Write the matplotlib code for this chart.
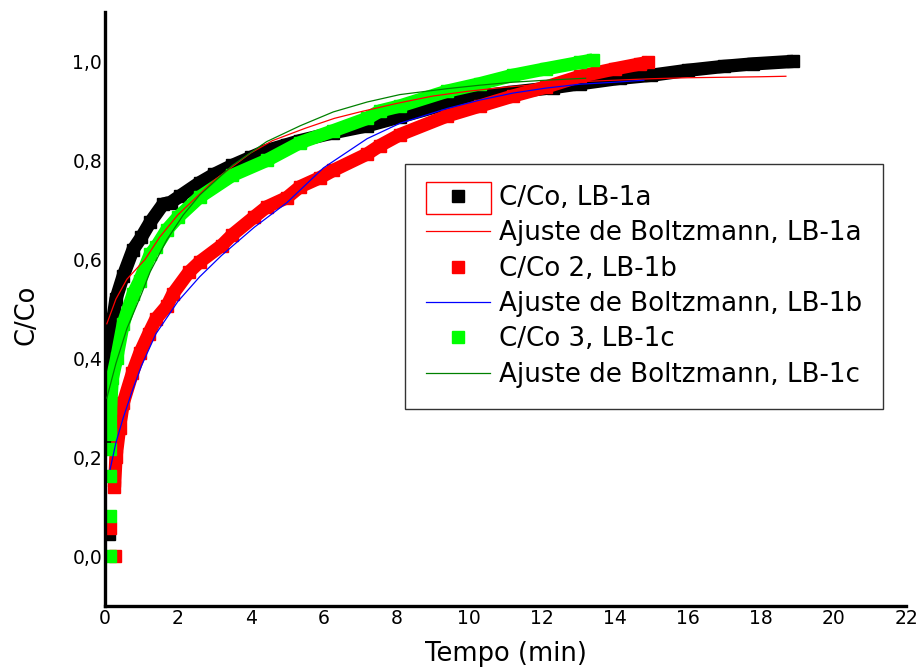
import matplotlib
matplotlib.use("Agg")
import matplotlib.pyplot as plt
from matplotlib.patches import Rectangle
from matplotlib.ticker import FuncFormatter

# ---------------- data ----------------
# LB-1a (black) : isolated first readings + main curve
a_start_x = [0.12, 0.12]
a_start_y = [0.045, 0.225]
a_x = [0.12, 0.15, 0.22, 0.30, 0.50, 0.77, 1.00, 1.24, 1.60, 1.80, 2.06, 2.60, 3.00,
       3.50, 4.00, 4.44, 5.00, 5.36, 6.27, 7.20, 8.10, 9.40, 10.3, 11.2, 12.3, 13.05,
       14.15, 15.0, 16.0, 17.0, 17.8, 18.9]
a_y = [0.36, 0.42, 0.48, 0.52, 0.567, 0.62, 0.645, 0.675, 0.712, 0.715, 0.728, 0.755, 0.772,
       0.79, 0.806, 0.82, 0.832, 0.84, 0.856, 0.87, 0.888, 0.915, 0.93, 0.938, 0.947, 0.955,
       0.966, 0.972, 0.982, 0.99, 0.995, 1.0]

# LB-1b (red)
b_start_x = [0.28, 0.15]
b_start_y = [0.0, 0.058]
b_x = [0.26, 0.30, 0.40, 0.50, 0.75, 0.95, 1.20, 1.40, 1.70, 1.86, 2.30, 2.60, 3.20, 3.50,
       4.10, 4.44, 5.00, 5.36, 5.90, 6.27, 7.20, 7.55, 8.10, 9.40, 10.3, 11.2, 12.1, 13.05,
       14.0, 14.7, 14.9]
b_y = [0.14, 0.20, 0.26, 0.31, 0.37, 0.41, 0.45, 0.48, 0.506, 0.53, 0.574, 0.595, 0.628, 0.65,
       0.686, 0.706, 0.725, 0.747, 0.765, 0.78, 0.813, 0.83, 0.852, 0.89, 0.91, 0.93, 0.948, 0.97,
       0.985, 0.995, 0.998]

# LB-1c (green)
c_start_x = [0.15, 0.15, 0.15, 0.15]
c_start_y = [0.0, 0.082, 0.163, 0.217]
c_x = [0.15, 0.15, 0.20, 0.32, 0.50, 0.77, 0.95, 1.24, 1.40, 1.70, 2.00, 2.60, 3.50, 4.44,
       5.36, 6.27, 7.20, 7.55, 8.10, 9.40, 10.3, 11.2, 12.1, 13.05, 13.4]
c_y = [0.247, 0.30, 0.36, 0.40, 0.47, 0.53, 0.557, 0.61, 0.625, 0.66, 0.685, 0.726, 0.77, 0.80,
       0.836, 0.86, 0.885, 0.90, 0.91, 0.94, 0.955, 0.972, 0.985, 0.998, 1.003]

# Boltzmann fits
fa_x = [0.05, 0.3, 0.6, 1.1, 1.5, 2.0, 3.0, 4.0, 4.6, 5.5, 6.3, 7.0, 8.0, 9.0, 10.0, 11.0,
        12.0, 13.0, 14.0, 15.0, 16.0, 17.0, 18.0, 18.7]
fa_y = [0.47, 0.52, 0.56, 0.60, 0.645, 0.69, 0.76, 0.815, 0.84, 0.865, 0.885, 0.898, 0.915,
        0.93, 0.94, 0.948, 0.954, 0.959, 0.962, 0.965, 0.967, 0.968, 0.969, 0.97]

fb_x = [0.14, 0.3, 0.5, 0.75, 1.0, 1.4, 2.0, 2.6, 3.2, 4.1, 5.0, 6.0, 7.2, 8.1, 9.4, 10.3,
        11.2, 12.1, 13.05, 14.0, 14.8]
fb_y = [0.176, 0.23, 0.28, 0.335, 0.385, 0.45, 0.515, 0.565, 0.608, 0.665, 0.715, 0.785,
        0.844, 0.875, 0.905, 0.922, 0.936, 0.946, 0.954, 0.958, 0.962]

fc_x = [0.05, 0.3, 0.6, 1.0, 1.24, 1.7, 2.15, 2.6, 3.5, 4.44, 5.36, 6.27, 7.2, 8.1, 9.4,
        10.3, 11.2, 12.1, 13.2]
fc_y = [0.32, 0.39, 0.46, 0.53, 0.575, 0.64, 0.69, 0.73, 0.79, 0.838, 0.87, 0.898, 0.918,
        0.933, 0.945, 0.952, 0.958, 0.962, 0.966]

labels = ["C/Co, LB-1a", "Ajuste de Boltzmann, LB-1a", "C/Co 2, LB-1b",
          "Ajuste de Boltzmann, LB-1b", "C/Co 3, LB-1c", "Ajuste de Boltzmann, LB-1c"]
x_ticks = [0, 2, 4, 6, 8, 10, 12, 14, 16, 18, 20, 22]
y_ticks = [0.0, 0.2, 0.4, 0.6, 0.8, 1.0]

# ---------------- figure ----------------
plt.rcParams['font.family'] = ['DejaVu Sans']
fig = plt.figure(figsize=(9.22, 6.69), dpi=100)
ax = fig.add_axes([0.1139, 0.0942, 0.8688, 0.888])

MS = 8.8
LW = 9.6
def data_series(sx, sy, x, y, color, label):
    h, = ax.plot(sx, sy, ls='none', marker='s', ms=MS, color=color, mec=color, label=label, zorder=2)
    ax.plot(x, y, ls='-', lw=LW, marker='s', ms=MS, color=color, mec=color,
            solid_capstyle='butt', zorder=2)
    return h

h1 = data_series(a_start_x, a_start_y, a_x, a_y, '#000000', labels[0])
h3 = data_series(b_start_x, b_start_y, b_x, b_y, '#ff0000', labels[2])
h5 = data_series(c_start_x, c_start_y, c_x, c_y, '#00ff00', labels[4])
h2, = ax.plot(fa_x, fa_y, color='#ff0000', lw=0.9, zorder=3, label=labels[1])
h4, = ax.plot(fb_x, fb_y, color='#0000ff', lw=0.9, zorder=3, label=labels[3])
h6, = ax.plot(fc_x, fc_y, color='#008000', lw=0.9, zorder=3, label=labels[5])

ax.set_xlim(0, 22)
ax.set_ylim(-0.1, 1.1)
ax.set_xticks(x_ticks)
ax.set_yticks(y_ticks)
ax.yaxis.set_major_formatter(FuncFormatter(lambda v, p: f"{v:.1f}".replace('.', ',')))
ax.tick_params(length=0, pad=2, labelsize=13.5, colors='black')
for s in ['top', 'right']:
    ax.spines[s].set_visible(False)
for s in ['left', 'bottom']:
    ax.spines[s].set_linewidth(2.4)
    ax.spines[s].set_color('black')

ax.set_xlabel("Tempo (min)", fontsize=18.5)
ax.set_ylabel("C/Co", fontsize=18.5)
ax.xaxis.set_label_coords(0.5, -0.059)
ax.yaxis.set_label_coords(-0.082, 0.49)

leg = ax.legend(handles=[h1, h2, h3, h4, h5, h6], loc='upper left',
                bbox_to_anchor=(0.375, 0.744), borderaxespad=0, fontsize=18.8,
                frameon=True, fancybox=False, edgecolor='#333333', framealpha=1,
                handlelength=2.45, handletextpad=0.35, labelspacing=0.36,
                borderpad=0.8, numpoints=1)
leg.get_frame().set_linewidth(1.0)

# red selection box around first legend symbol (as in the original screenshot)
fig.patches.append(Rectangle((426/922, 1-214/669), 65/922, 32/669, transform=fig.transFigure,
                             fill=False, edgecolor='#ff0000', lw=1.0, figure=fig))

fig.savefig("out.png", dpi=100)
